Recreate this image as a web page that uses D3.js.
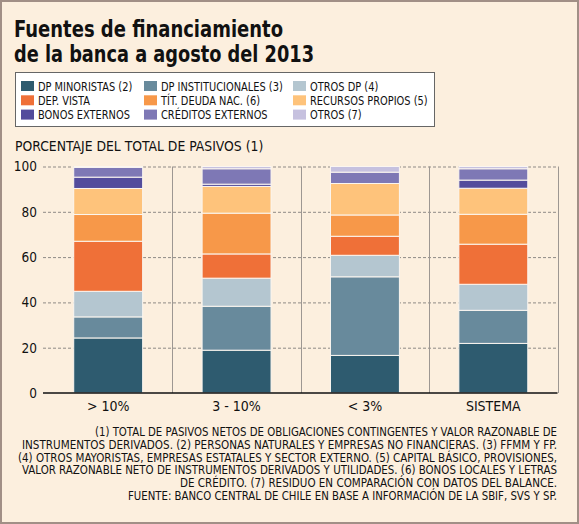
<!DOCTYPE html>
<html>
<head>
<meta charset="utf-8">
<script src="https://cdn.jsdelivr.net/npm/d3@7"></script>
<style>
  body { margin: 0; background: #fcefde; }
  svg text { font-family: "DejaVu Sans Condensed", "DejaVu Sans", sans-serif; fill: #111; }
  .title { font-weight: bold; font-size: 22.5px; }
  .legend-label { font-size: 12.5px; }
  .annotation { font-size: 13.8px; }
  .axis text { font-size: 13.5px; }
  .xaxis text { font-size: 14px; }
  .note { font-size: 11.5px; }
</style>
</head>
<body>
<svg width="579" height="524"></svg>
<script>
var categories = ["> 10%", "3 - 10%", "< 3%", "SISTEMA"];

var seriesNames = ["DP MINORISTAS (2)", "DP INSTITUCIONALES (3)", "OTROS DP (4)",
                   "DEP. VISTA", "TÍT. DEUDA NAC. (6)", "RECURSOS PROPIOS (5)",
                   "BONOS EXTERNOS", "CRÉDITOS EXTERNOS", "OTROS (7)"];

// % del total de pasivos, one array per series, in category order
var dpMinoristas      = [24.3, 18.9, 16.6, 21.9];
var dpInstitucionales = [ 9.3, 19.4, 34.7, 14.6];
var otrosDp           = [11.3, 12.4,  9.5, 11.5];
var depVista          = [22.1, 10.7,  8.4, 17.7];
var titDeuda          = [11.8, 18.0,  9.4, 13.2];
var recursosPropios   = [11.5, 11.8, 13.9, 11.5];
var bonosExternos     = [ 5.0,  1.0,  0.0,  3.6];
var creditosExternos  = [ 4.3,  6.8,  5.0,  5.0];
var otros             = [ 0.4,  1.0,  2.5,  1.0];

var yTicks = [0, 20, 40, 60, 80, 100];

var colors = ["#2e5b6f", "#688a9c", "#b4c6d0", "#ef7038", "#f79849",
              "#fec37b", "#534c9c", "#7e78b5", "#c6c1df"];

var footnotes = [
  "(1) TOTAL DE PASIVOS NETOS DE OBLIGACIONES CONTINGENTES Y VALOR RAZONABLE DE",
  "INSTRUMENTOS DERIVADOS. (2) PERSONAS NATURALES Y EMPRESAS NO FINANCIERAS. (3) FFMM Y FP.",
  "(4) OTROS MAYORISTAS, EMPRESAS ESTATALES Y SECTOR EXTERNO. (5) CAPITAL BÁSICO, PROVISIONES,",
  "VALOR RAZONABLE NETO DE INSTRUMENTOS DERIVADOS Y UTILIDADES. (6) BONOS LOCALES Y LETRAS",
  "DE CRÉDITO. (7) RESIDUO EN COMPARACIÓN CON DATOS DEL BALANCE.",
  "FUENTE: BANCO CENTRAL DE CHILE EN BASE A INFORMACIÓN DE LA SBIF, SVS Y SP."
];
var footnoteStart = [95, 22, 18, 22, 180, 128];

var allSeries = [dpMinoristas, dpInstitucionales, otrosDp, depVista, titDeuda,
                 recursosPropios, bonosExternos, creditosExternos, otros];

var table = categories.map(function(c, i) {
  var row = {category: c};
  seriesNames.forEach(function(s, j) { row[s] = allSeries[j][i]; });
  return row;
});

var svg = d3.select("svg"),
    width = +svg.attr("width"),
    height = +svg.attr("height");

svg.append("rect")
  .attr("x", 1).attr("y", 1)
  .attr("width", width - 2).attr("height", height - 2)
  .attr("fill", "#fcefde")
  .attr("stroke", "#a18f86")
  .attr("stroke-width", 2);

// -- title --
svg.append("text").attr("class", "title").attr("x", 14).attr("y", 37)
  .attr("textLength", 269).attr("lengthAdjust", "spacingAndGlyphs")
  .text("Fuentes de financiamiento");
svg.append("text").attr("class", "title").attr("x", 14).attr("y", 62)
  .attr("textLength", 300).attr("lengthAdjust", "spacingAndGlyphs")
  .text("de la banca a agosto del 2013");

// -- legend --
svg.append("rect")
  .attr("x", 15.5).attr("y", 72.5)
  .attr("width", 419).attr("height", 54)
  .attr("fill", "#fff")
  .attr("stroke", "#666");

var legendCols = [21, 144, 293];

var legend = svg.append("g").selectAll("g")
  .data(seriesNames)
  .enter().append("g")
    .attr("transform", function(d, i) {
      return "translate(" + legendCols[i % 3] + "," + (86 + Math.floor(i / 3) * 14.3) + ")";
    });

legend.append("rect")
  .attr("y", -5).attr("width", 13).attr("height", 10)
  .attr("fill", function(d, i) { return colors[i]; });

// the original face is narrower than DejaVu, squeeze it a bit
legend.append("text")
  .attr("class", "legend-label")
  .attr("transform", "translate(17,4.5) scale(0.875,1)")
  .text(function(d) { return d; });

svg.append("text").attr("class", "annotation").attr("x", 15).attr("y", 151)
  .text("PORCENTAJE DEL TOTAL DE PASIVOS (1)");

// -- scales --
var x = d3.scaleBand()
  .domain(categories)
  .range([44, 557.5])
  .paddingInner(0.463)
  .paddingOuter(0.2315);

var y = d3.scaleLinear()
  .domain([0, 100])
  .range([393, 166.5]);

// dashed gridlines
svg.append("g")
  .selectAll("line")
  .data(yTicks.filter(function(d) { return d > 0; }))
  .enter().append("line")
    .attr("x1", 43).attr("x2", 557.5)
    .attr("y1", function(d) { return y(d) + 0.5; })
    .attr("y2", function(d) { return y(d) + 0.5; })
    .attr("stroke", "#8f8a86")
    .attr("stroke-dasharray", "3,2");

// vertical separators
var gap = x.step() - x.bandwidth();
svg.append("g")
  .selectAll("line")
  .data(categories)
  .enter().append("line")
    .attr("x1", function(d) { return Math.round(x(d) + x.bandwidth() + gap / 2) + 0.5; })
    .attr("x2", function(d) { return Math.round(x(d) + x.bandwidth() + gap / 2) + 0.5; })
    .attr("y1", y(100)).attr("y2", y(0))
    .attr("stroke", "#9d9792");

// stacked bars
var stack = d3.stack().keys(seriesNames);
var layers = stack(table);

svg.append("g")
  .selectAll("g")
  .data(layers)
  .enter().append("g")
    .attr("fill", function(d, i) { return colors[i]; })
  .selectAll("rect")
  .data(function(d) { return d; })
  .enter().append("rect")
    .attr("x", function(d) { return x(d.data.category); })
    .attr("y", function(d) { return y(d[1]); })
    .attr("width", x.bandwidth())
    .attr("height", function(d) { return y(d[0]) - y(d[1]); })
    .attr("stroke", "#fbf6f0")
    .attr("stroke-width", 1);

// baseline
svg.append("line")
  .attr("x1", 43).attr("x2", 557.5)
  .attr("y1", y(0)).attr("y2", y(0))
  .attr("stroke", "#111")
  .attr("stroke-width", 1.5);

// axes
var yAxis = svg.append("g")
  .attr("class", "axis")
  .attr("transform", "translate(43,0)")
  .call(d3.axisLeft(y).tickValues(yTicks).tickSize(0).tickPadding(6));
yAxis.select(".domain").remove();

var xAxis = svg.append("g")
  .attr("class", "axis xaxis")
  .attr("transform", "translate(0," + y(0) + ")")
  .call(d3.axisBottom(x).tickSize(0).tickPadding(8));
xAxis.select(".domain").remove();

svg.selectAll(".axis").attr("font-family", null).attr("font-size", null);

// footnotes
svg.append("g")
  .selectAll("text")
  .data(footnotes)
  .enter().append("text")
    .attr("class", "note")
    .attr("x", 557)
    .attr("y", function(d, i) { return 436 + i * 12.8; })
    .attr("text-anchor", "end")
    .attr("textLength", function(d, i) { return 557 - footnoteStart[i]; })
    .attr("lengthAdjust", "spacingAndGlyphs")
    .text(function(d) { return d; });
</script>
</body>
</html>
